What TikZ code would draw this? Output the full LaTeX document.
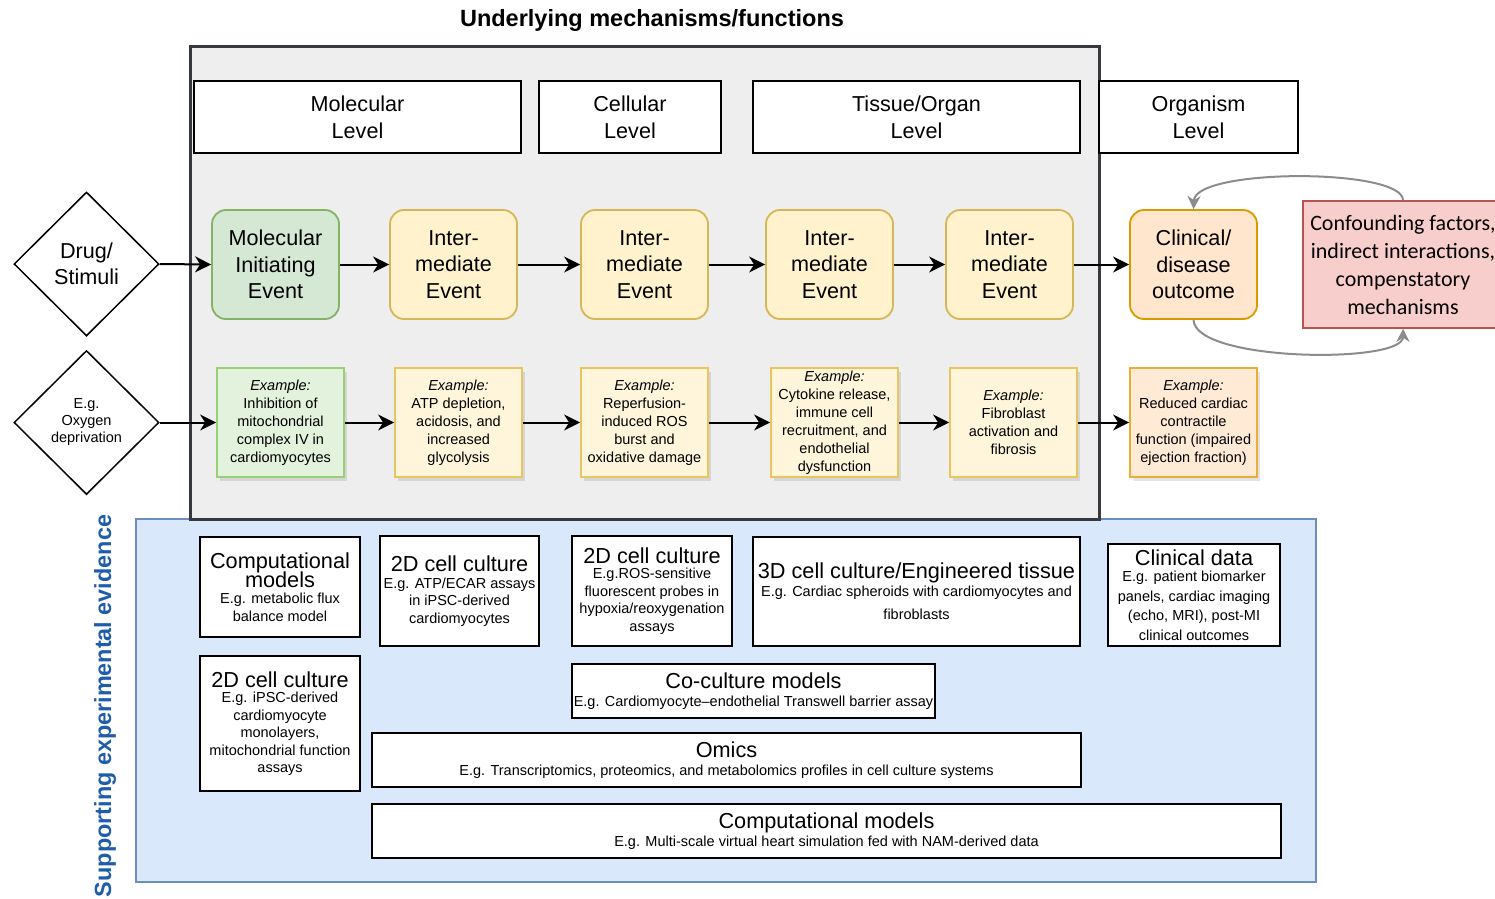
\documentclass[tikz,border=0pt]{standalone}
\usepackage{fontspec}
\setmainfont{Liberation Sans}
\newfontfamily\calibfont{Carlito}
\usetikzlibrary{shapes.geometric,arrows.meta,shadows}
\definecolor{grayfill}{HTML}{EEEEEE}
\definecolor{grayline}{HTML}{36393D}
\definecolor{mief}{HTML}{D5E8D4}
\definecolor{miel}{HTML}{82B366}
\definecolor{intf}{HTML}{FFF2CC}
\definecolor{intl}{HTML}{D6B656}
\definecolor{clif}{HTML}{FFE6CC}
\definecolor{clil}{HTML}{D79B00}
\definecolor{exgf}{HTML}{E2F2DC}
\definecolor{exgl}{HTML}{97D077}
\definecolor{exyf}{HTML}{FFF5DA}
\definecolor{exyl}{HTML}{E8C55E}
\definecolor{exof}{HTML}{FFEAD6}
\definecolor{exol}{HTML}{E8AE3A}
\definecolor{conff}{HTML}{F8CECC}
\definecolor{confl}{HTML}{B85450}
\definecolor{bluef}{HTML}{DAE8FC}
\definecolor{bluel}{HTML}{6C8EBF}
\definecolor{evtext}{HTML}{1F5DAB}
\definecolor{curvecol}{HTML}{8C8C8C}
\newcommand\ftitle{\fontsize{21.7}{24}\selectfont}
\newcommand\fsub{\fontsize{14.5}{17.5}\selectfont}
\begin{document}
\begin{tikzpicture}[x=1pt,y=-1pt,
  hdr/.style={draw=black, line width=1.5pt, fill=white, minimum height=72, inner sep=0pt, align=center, font=\fontsize{21.6}{27}\selectfont},
  evt/.style={rounded corners=14pt, line width=1.8pt, minimum width=127, minimum height=109, inner sep=0pt, align=center, font=\fontsize{21.6}{26.5}\selectfont},
  mie/.style={evt, draw=miel, fill=mief},
  inter/.style={evt, draw=intl, fill=intf},
  clin/.style={evt, draw=clil, fill=clif},
  ex/.style={line width=1.8pt, minimum width=127, minimum height=109, inner sep=0pt, align=center, font=\fontsize{14.5}{18}\selectfont,
     drop shadow={opacity=0.22, shadow xshift=3pt, shadow yshift=-4pt}},
  exg/.style={ex, draw=exgl, fill=exgf},
  exy/.style={ex, draw=exyl, fill=exyf},
  exo/.style={ex, draw=exol, fill=exof},
  dia/.style={diamond, draw=black, line width=1.5pt, fill=white, aspect=1, inner sep=0pt, minimum width=145, minimum height=144, align=center},
  arr/.style={-{Stealth[length=16pt,width=16pt,inset=5pt]}, line width=2pt, black},
  garr/.style={-{Stealth[length=13pt,width=13pt,inset=4pt]}, line width=2pt, curvecol},
  ev/.style={draw=black, line width=1.8pt, fill=white, inner sep=0pt, align=center, font=\fsub}
]
\useasboundingbox (0,0) rectangle (1495,898);
% title
\node[font=\bfseries\fontsize{23.5}{26}\selectfont] (title) at (652,20) {Underlying mechanisms/functions};
% evidence container
\path[draw=bluel, line width=1.5pt, fill=bluef] (136,519) rectangle (1316,882);
% mechanism container
\path[draw=grayline, line width=3pt, fill=grayfill] (190,46) rectangle (1099,519);
% level headers
\node[hdr, minimum width=327] (hmol) at (357.5,117) {Molecular\\Level};
\node[hdr, minimum width=182] (hcel) at (630,117) {Cellular\\Level};
\node[hdr, minimum width=327] (htis) at (916.5,117) {Tissue/Organ\\Level};
\node[hdr, minimum width=199] (horg) at (1198.5,117) {Organism\\Level};
% diamonds
\node[dia, font=\fontsize{21.6}{26}\selectfont] (drug) at (86.5,264) {Drug/\\Stimuli};
\node[dia, font=\fontsize{14.5}{17}\selectfont] (oxy) at (86.5,422.5) {E.g.\\Oxygen\\deprivation};
% row 1 events
\node[mie] (e1) at (275.5,264.5) {Molecular\\Initiating\\Event};
\node[inter] (e2) at (453.5,264.5) {Inter-\\mediate\\Event};
\node[inter] (e3) at (644.5,264.5) {Inter-\\mediate\\Event};
\node[inter] (e4) at (829.5,264.5) {Inter-\\mediate\\Event};
\node[inter] (e5) at (1009.5,264.5) {Inter-\\mediate\\Event};
\node[clin] (e6) at (1193.5,264.5) {Clinical/\\disease\\outcome};
% row 2 examples
\node[exg] (x1) at (280.5,422.5) {{\itshape Example:}\\Inhibition of\\mitochondrial\\complex IV in\\cardiomyocytes};
\node[exy] (x2) at (458.5,422.5) {{\itshape Example:}\\ATP depletion,\\acidosis, and\\increased\\glycolysis};
\node[exy] (x3) at (644.5,422.5) {{\itshape Example:}\\Reperfusion-\\induced ROS\\burst and\\oxidative damage};
\node[exy] (x4) at (834.5,422.5) {{\itshape Example:}\\Cytokine release,\\immune cell\\recruitment, and\\endothelial\\dysfunction};
\node[exy] (x5) at (1013.5,422.5) {{\itshape Example:}\\Fibroblast\\activation and\\fibrosis};
\node[exo] (x6) at (1193.5,422.5) {{\itshape Example:}\\Reduced cardiac\\contractile\\function (impaired\\ejection fraction)};
% confounding
\node[draw=confl, fill=conff, line width=1.5pt, minimum width=200, minimum height=127, inner sep=0pt, align=center,
      font=\calibfont\fontsize{22}{28}\selectfont] (conf) at (1403,264.5)
      {Confounding factors,\\indirect interactions,\\compenstatory\\mechanisms};
% arrows row 1
\draw[arr] (drug.east) -- (e1.west);
\draw[arr] (e1) -- (e2);
\draw[arr] (e2) -- (e3);
\draw[arr] (e3) -- (e4);
\draw[arr] (e4) -- (e5);
\draw[arr] (e5) -- (e6);
% arrows row 2
\draw[arr] (oxy.east) -- (x1.west);
\draw[arr] (x1) -- (x2);
\draw[arr] (x2) -- (x3);
\draw[arr] (x3) -- (x4);
\draw[arr] (x4) -- (x5);
\draw[arr] (x5) -- (x6);
% feedback curves
\draw[garr] (conf.north) .. controls (1403,168) and (1195,168) .. (e6.north);
\draw[garr] (e6.south) .. controls (1195,362) and (1403,364) .. (conf.south);
% evidence label
\node[rotate=90, font=\bfseries\fontsize{23.4}{26}\selectfont, text=evtext] (evlabel) at (105,706) {Supporting experimental evidence};
% evidence boxes
\node[ev, minimum width=160, minimum height=100] (v1) at (280,587)
  {{\ftitle Computational}\\[-2pt]{\ftitle models}\\[-1pt]E.g. metabolic flux\\balance model};
\node[ev, minimum width=159, minimum height=110] (v2) at (459.5,591)
  {{\ftitle 2D cell culture}\\[-1pt]E.g. ATP/ECAR assays\\in iPSC-derived\\cardiomyocytes};
\node[ev, minimum width=160, minimum height=110] (v3) at (652,591)
  {{\ftitle 2D cell culture}\\[-2pt]E.g.ROS-sensitive\\fluorescent probes in\\hypoxia/reoxygenation\\assays};
\node[ev, minimum width=327, minimum height=109] (v4) at (916.5,591.5)
  {{\ftitle 3D cell culture/Engineered tissue}\\[0pt]E.g. Cardiac spheroids with cardiomyocytes and\\[6pt]fibroblasts};
\node[ev, minimum width=172, minimum height=102] (v5) at (1194,595)
  {{\ftitle Clinical data}\\[-1pt]E.g. patient biomarker\\[2pt]panels, cardiac imaging\\[2pt](echo, MRI), post-MI\\[2pt]clinical outcomes};
\node[ev, minimum width=160, minimum height=135] (v6) at (280,723.5)
  {{\ftitle 2D cell culture}\\[-2pt]E.g. iPSC-derived\\cardiomyocyte\\monolayers,\\mitochondrial function\\assays};
\node[ev, minimum width=363, minimum height=54] (v7) at (753.5,691)
  {{\ftitle Co-culture models}\\[0pt]E.g. Cardiomyocyte--endothelial Transwell barrier assay};
\node[ev, minimum width=709, minimum height=54] (v8) at (726.5,760)
  {{\ftitle Omics}\\[0pt]E.g. Transcriptomics, proteomics, and metabolomics profiles in cell culture systems};
\node[ev, minimum width=909, minimum height=54] (v9) at (826.5,831)
  {{\ftitle Computational models}\\[0pt]E.g. Multi-scale virtual heart simulation fed with NAM-derived data};
\end{tikzpicture}
\end{document}
